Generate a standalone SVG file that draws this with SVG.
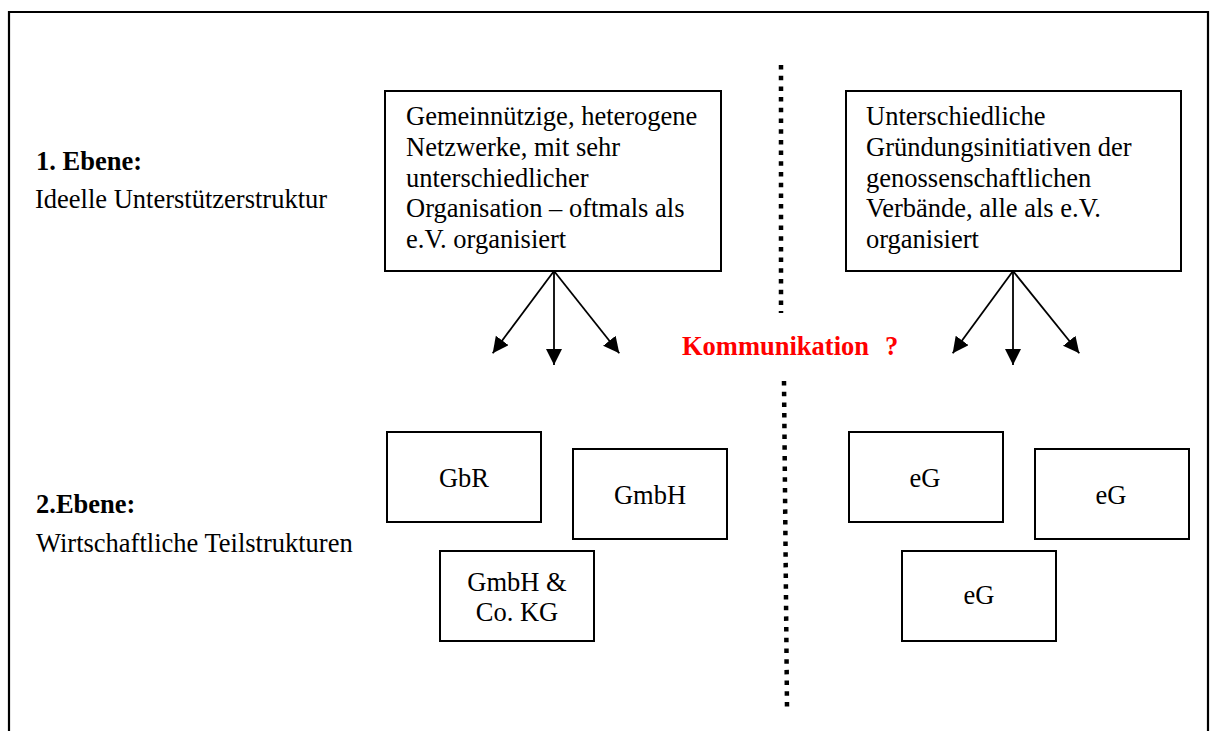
<svg xmlns="http://www.w3.org/2000/svg" width="1216" height="731" viewBox="0 0 1216 731">
<defs>
<style>
.t{font-family:"Liberation Serif","Times New Roman",serif;font-size:26.5px;fill:#000}
.b{font-weight:bold}
.c{text-anchor:middle}
.red{fill:#ff0000}
.box{fill:#fff;stroke:#000;stroke-width:2}
.arr{stroke:#000;stroke-width:1.8;fill:none;marker-end:url(#ah)}
.dot{stroke:#000;stroke-width:4.5;stroke-dasharray:4.5 6.2;fill:none}
</style>
<marker id="ah" markerUnits="userSpaceOnUse" markerWidth="18" markerHeight="18" refX="16" refY="8" orient="auto">
<path d="M0,0 L16,8 L0,16 z" fill="#000"/>
</marker>
</defs>
<rect width="1216" height="731" fill="#fff"/>
<path id="frame" d="M9,731 L9,12 L1208,12 L1208,731" fill="none" stroke="#000" stroke-width="2.2"/>

<g id="level1-label">
<text class="t b" x="36" y="170">1. Ebene:</text>
<text class="t" x="35" y="208">Ideelle Unterstützerstruktur</text>
</g>
<g id="level2-label">
<text class="t b" x="36" y="513">2.Ebene:</text>
<text class="t" x="36" y="552">Wirtschaftliche Teilstrukturen</text>
</g>

<g id="box-left">
<rect class="box" x="385" y="91" width="336" height="180"/>
<text class="t" x="406" y="125">Gemeinnützige, heterogene</text>
<text class="t" x="406" y="156">Netzwerke, mit sehr</text>
<text class="t" x="406" y="187">unterschiedlicher</text>
<text class="t" x="406" y="217">Organisation – oftmals als</text>
<text class="t" x="406" y="248">e.V. organisiert</text>
</g>
<g id="box-right">
<rect class="box" x="846" y="91" width="335" height="180"/>
<text class="t" x="866" y="125">Unterschiedliche</text>
<text class="t" x="866" y="156">Gründungsinitiativen der</text>
<text class="t" x="866" y="187">genossenschaftlichen</text>
<text class="t" x="866" y="217">Verbände, alle als e.V.</text>
<text class="t" x="866" y="248">organisiert</text>
</g>

<g id="connectors">
<line class="arr" x1="554" y1="271" x2="492.7" y2="353.3"/>
<line class="arr" x1="554" y1="271" x2="554" y2="365"/>
<line class="arr" x1="554" y1="271" x2="619.3" y2="353.3"/>
<line class="arr" x1="1013" y1="271" x2="952.7" y2="353.3"/>
<line class="arr" x1="1013" y1="271" x2="1013" y2="365"/>
<line class="arr" x1="1013" y1="271" x2="1079.3" y2="353.3"/>
</g>

<g id="divider">
<line class="dot" x1="781" y1="65" x2="781" y2="313"/>
<line class="dot" x1="784" y1="381" x2="787" y2="707"/>
</g>

<g id="communication">
<text class="t b red" x="682" y="355">Kommunikation<tspan x="885">?</tspan></text>
</g>

<g id="gbr">
<rect class="box" x="387" y="432" width="154" height="90"/>
<text class="t c" x="464" y="487">GbR</text>
</g>
<g id="gmbh">
<rect class="box" x="573" y="449" width="154" height="90"/>
<text class="t c" x="650" y="504">GmbH</text>
</g>
<g id="gmbh-co-kg">
<rect class="box" x="440" y="551" width="154" height="90"/>
<text class="t c" x="517" y="591">GmbH &amp;</text>
<text class="t c" x="517" y="621">Co. KG</text>
</g>
<g id="eg1">
<rect class="box" x="849" y="432" width="154" height="90"/>
<text class="t c" x="925" y="487">eG</text>
</g>
<g id="eg2">
<rect class="box" x="1035" y="449" width="154" height="90"/>
<text class="t c" x="1111" y="504">eG</text>
</g>
<g id="eg3">
<rect class="box" x="902" y="551" width="154" height="90"/>
<text class="t c" x="979" y="604">eG</text>
</g>
</svg>
